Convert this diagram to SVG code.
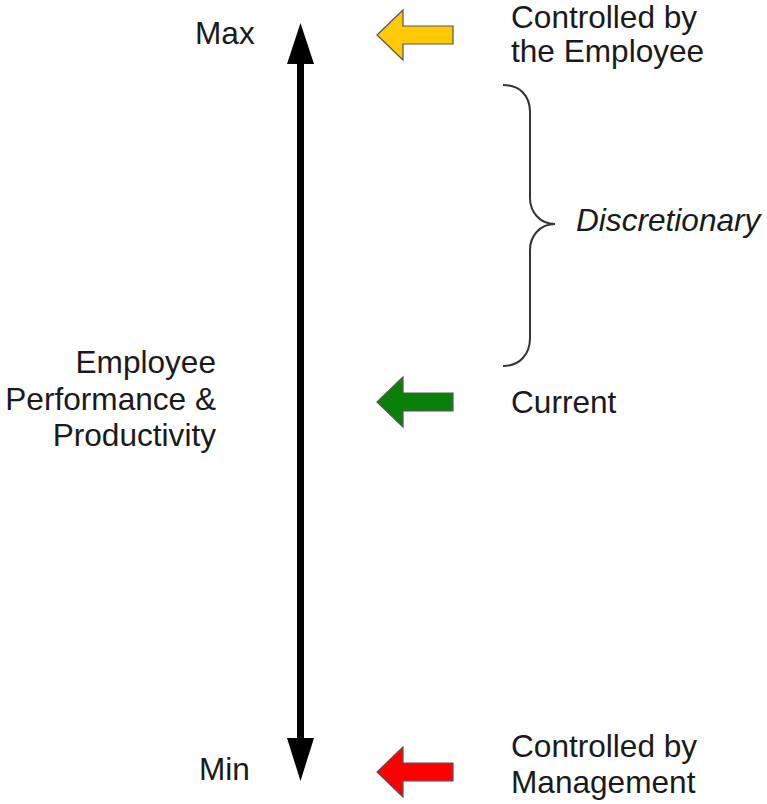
<svg xmlns="http://www.w3.org/2000/svg" width="767" height="804" viewBox="0 0 767 804">
<style>
text{font-family:"Liberation Sans",Arial,sans-serif;font-size:31.6px;fill:#1a1a1a}
.ptr{stroke:#555;stroke-width:1.2;stroke-linejoin:miter}
</style>
<defs>
<path id="ptr" d="M0,0 L26,-25 L26,-9 L76,-9 L76,9 L26,9 L26,25 Z"/>
</defs>
<rect width="767" height="804" fill="#fff"/>
<g id="connectors">
<g id="axis">
<rect x="297" y="60" width="7" height="681" fill="#000"/>
<path d="M300.5,23 L287,64 L314,64 Z" fill="#000"/>
<path d="M300.5,781 L287,738 L314,738 Z" fill="#000"/>
</g>
</g>
<g id="brace">
<path d="M503,85 C520,85 530,96 530,112 L530,198 C530,212 540,224 555,224 C540,224 530,236 530,250 L530,338 C530,354 520,366 503,366" fill="none" stroke="#333" stroke-width="2"/>
</g>
<g id="max-label"><text x="195" y="44">Max</text></g>
<g id="min-label"><text x="199" y="780">Min</text></g>
<g id="axis-label">
<text text-anchor="end" x="216" y="373">Employee</text>
<text text-anchor="end" x="216" y="410">Performance &amp;</text>
<text text-anchor="end" x="216" y="446">Productivity</text>
</g>
<g id="employee-arrow">
<use href="#ptr" class="ptr" transform="translate(377,35)" fill="#ffc907"/>
<text x="511" y="28">Controlled by</text>
<text x="511" y="62">the Employee</text>
</g>
<g id="discretionary"><text x="576" y="231" font-style="italic">Discretionary</text></g>
<g id="current-arrow">
<use href="#ptr" class="ptr" transform="translate(377,402)" fill="#0a7f0a"/>
<text x="511" y="413">Current</text>
</g>
<g id="management-arrow">
<use href="#ptr" class="ptr" transform="translate(377,772)" fill="#ff0000"/>
<text x="511" y="757">Controlled by</text>
<text x="511" y="793">Management</text>
</g>
</svg>
